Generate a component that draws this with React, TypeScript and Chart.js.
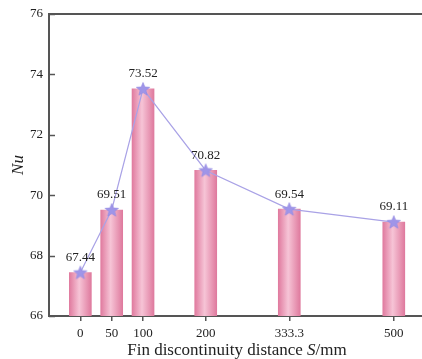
import React, { useEffect, useRef } from "react";
import { Chart, registerables } from "chart.js";

Chart.register(...registerables);

const distances = [0, 50, 100, 200, 333.3, 500];
const nuValues = [67.44, 69.51, 73.52, 70.82, 69.54, 69.11];
const valueLabels = ["67.44", "69.51", "73.52", "70.82", "69.54", "69.11"];
const xTickValues = [0, 50, 100, 200, 333.3, 500];
const xTickLabels = ["0", "50", "100", "200", "333.3", "500"];
const yTickValues = [66, 68, 70, 72, 74, 76];

const SERIF = "'Liberation Serif', 'Times New Roman', serif";
const AXIS = "#555555";

function makeStar(): HTMLCanvasElement {
  const c = document.createElement("canvas");
  c.width = 16;
  c.height = 16;
  const g = c.getContext("2d")!;
  const cx = 8, cy = 8.5, R = 7, r = 3.1;
  g.beginPath();
  for (let i = 0; i < 10; i++) {
    const rad = i % 2 === 0 ? R : r;
    const a = -Math.PI / 2 + (i * Math.PI) / 5;
    const x = cx + rad * Math.cos(a);
    const y = cy + rad * Math.sin(a);
    if (i === 0) g.moveTo(x, y);
    else g.lineTo(x, y);
  }
  g.closePath();
  g.fillStyle = "#9f95e8";
  g.fill();
  g.strokeStyle = "#8f84e0";
  g.lineWidth = 0.6;
  g.stroke();
  return c;
}

export default function App() {
  const ref = useRef<HTMLCanvasElement | null>(null);

  useEffect(() => {
    document.body.style.margin = "0";
    const canvas = ref.current!;
    const star = makeStar();
    const points = distances.map((d, i) => ({ x: d, y: nuValues[i] }));
    const BAR_W = 22;

    const decor = {
      id: "decor",
      afterDraw(chart: any) {
        const { ctx, chartArea } = chart;
        const ys = chart.scales.y;
        ctx.save();
        ctx.strokeStyle = AXIS;
        ctx.lineWidth = 2;
        ctx.beginPath();
        ctx.moveTo(chartArea.left - 1, chartArea.top);
        ctx.lineTo(422, chartArea.top);
        ctx.stroke();
        ctx.lineWidth = 1.5;
        yTickValues.forEach((v) => {
          const y = Math.round(ys.getPixelForValue(v)) + 0.5;
          ctx.beginPath();
          ctx.moveTo(chartArea.left, y);
          ctx.lineTo(chartArea.left + 6, y);
          ctx.stroke();
        });
        const meta = chart.getDatasetMeta(1);
        ctx.fillStyle = "#222";
        ctx.font = `13px ${SERIF}`;
        ctx.textAlign = "center";
        ctx.textBaseline = "middle";
        meta.data.forEach((pt: any, i: number) => {
          ctx.fillText(valueLabels[i], pt.x, pt.y - 15);
        });
        const parts = [
          { t: "Fin discontinuity distance ", s: "normal" },
          { t: "S", s: "italic" },
          { t: "/mm", s: "normal" },
        ];
        let total = 0;
        const widths = parts.map((p) => {
          ctx.font = `${p.s} 17px ${SERIF}`;
          const w = ctx.measureText(p.t).width;
          total += w;
          return w;
        });
        let x = 237 - total / 2;
        ctx.textAlign = "left";
        ctx.textBaseline = "alphabetic";
        ctx.fillStyle = "#222";
        parts.forEach((p, i) => {
          ctx.font = `${p.s} 17px ${SERIF}`;
          ctx.fillText(p.t, x, 355);
          x += widths[i];
        });
        ctx.save();
        ctx.translate(19, 165);
        ctx.rotate(-Math.PI / 2);
        ctx.font = `italic 17px ${SERIF}`;
        ctx.textAlign = "center";
        ctx.textBaseline = "middle";
        ctx.fillText("Nu", 0, 0);
        ctx.restore();
        ctx.restore();
      },
    };

    const chart = new Chart(canvas, {
      type: "bar",
      data: {
        datasets: [
          {
            type: "bar",
            data: points,
            barThickness: BAR_W,
            order: 2,
            borderWidth: 0,
            backgroundColor: (context: any) => {
              const ch = context.chart;
              const xs = ch.scales && ch.scales.x;
              if (!xs || !context.raw) return "#ec9ab8";
              const cx = xs.getPixelForValue(context.raw.x);
              if (!isFinite(cx)) return "#ec9ab8";
              const g = ch.ctx.createLinearGradient(cx - BAR_W / 2, 0, cx + BAR_W / 2, 0);
              g.addColorStop(0, "#e07b9f");
              g.addColorStop(0.45, "#f6c4d6");
              g.addColorStop(1, "#df7a9e");
              return g;
            },
          } as any,
          {
            type: "line",
            data: points,
            order: 1,
            borderColor: "#a9a2e6",
            borderWidth: 1.2,
            pointStyle: star as any,
            pointRadius: 7,
            tension: 0,
            clip: false,
          } as any,
        ],
      },
      options: {
        responsive: false,
        animation: false,
        layout: { autoPadding: false, padding: { top: 14, right: 0, left: 0, bottom: 0 } },
        plugins: {
          legend: { display: false },
          tooltip: { enabled: false },
        },
        scales: {
          x: {
            type: "linear",
            min: -50,
            max: 545,
            offset: false,
            afterBuildTicks: (s: any) => {
              s.ticks = xTickValues.map((v) => ({ value: v }));
            },
            afterFit: (s: any) => {
              s.height = 43;
              s.paddingRight = 0;
              s.paddingLeft = 0;
            },
            grid: {
              offset: false,
              drawOnChartArea: false,
              drawTicks: true,
              tickLength: 5,
              color: AXIS,
              lineWidth: 1.5,
            },
            border: { display: true, color: AXIS, width: 2 },
            ticks: {
              autoSkip: false,
              maxRotation: 0,
              padding: 5,
              color: "#222",
              font: { family: SERIF, size: 13 },
              callback: (v: any) => {
                const i = xTickValues.indexOf(Number(v));
                return i >= 0 ? xTickLabels[i] : "";
              },
            },
          },
          y: {
            type: "linear",
            min: 66,
            max: 76,
            afterBuildTicks: (s: any) => {
              s.ticks = yTickValues.map((v) => ({ value: v }));
            },
            afterFit: (s: any) => {
              s.width = 49;
            },
            grid: { drawOnChartArea: false, drawTicks: false },
            border: { display: true, color: AXIS, width: 2 },
            ticks: {
              padding: 6,
              color: "#222",
              font: { family: SERIF, size: 13 },
            },
          },
        },
      },
      plugins: [decor],
    } as any);

    return () => chart.destroy();
  }, []);

  return (
    <div style={{ width: 422, height: 359 }}>
      <canvas ref={ref} width={422} height={359} />
    </div>
  );
}
